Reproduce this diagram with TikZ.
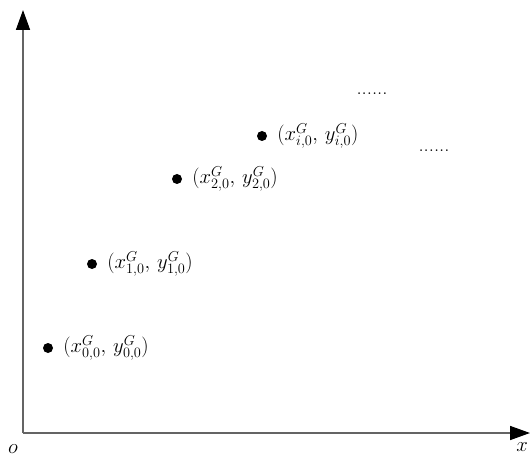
\documentclass[tikz,border=0pt]{standalone}
\usepackage{amsmath,amssymb}
\usepackage{xcolor}
\usepackage{tikz}
\usetikzlibrary{arrows.meta, positioning}

\definecolor{axisgray}{RGB}{100,100,100}

\tikzset{
    axisline/.style={line width=1.6bp, axisgray, -{Triangle[length=20bp, width=14bp, black]}},
    gpoint/.style={circle, fill=black, inner sep=0pt, minimum size=10bp},
    glabel/.style={right=9bp, font=\huge, inner sep=1bp}
}

\begin{document}
\begin{tikzpicture}[x=1bp, y=-1bp]
    \useasboundingbox (0,0) rectangle (530,458);

    % Axes
    \coordinate (o) at (23,433);
    \coordinate (xend) at (530,433);
    \coordinate (yend) at (23,10);
    \draw[axisline] (o) -- (xend);
    \draw[axisline] (o) -- (yend);
    \node[font=\huge] (olabel) at (13,449) {$o$};
    \node[font=\huge] (xlabel) at (522,447) {$x$};

    % Initial points
    \node[gpoint] (p0) at (48,348) {};
    \node[glabel] (l0) at (p0.east) {$(x^G_{0,0},\, y^G_{0,0})$};
    \node[gpoint] (p1) at (92,264) {};
    \node[glabel] (l1) at (p1.east) {$(x^G_{1,0},\, y^G_{1,0})$};
    \node[gpoint] (p2) at (177,179) {};
    \node[glabel] (l2) at (p2.east) {$(x^G_{2,0},\, y^G_{2,0})$};
    \node[gpoint] (pi) at (262,136) {};
    \node[glabel] (li) at (pi.east) {$(x^G_{i,0},\, y^G_{i,0})$};

    % Dots
    \node[font=\huge, anchor=base] (dots1) at (372,95) {......};
    \node[font=\huge, anchor=base] (dots2) at (434,152) {......};
\end{tikzpicture}
\end{document}
